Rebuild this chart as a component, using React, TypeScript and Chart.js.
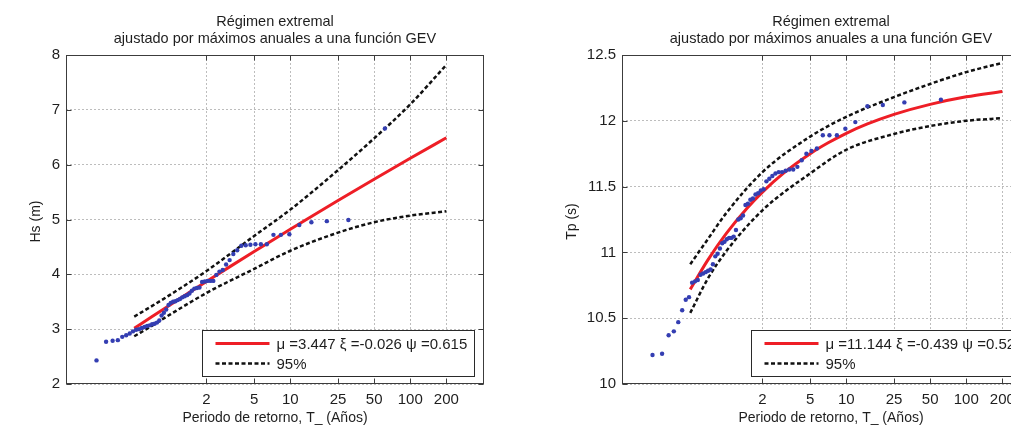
import React, { useEffect, useRef } from "react";
import { Chart, registerables } from "chart.js";

Chart.register(...registerables);

// ---------- data ----------
// plotting positions (return period, years) of the 61 ranked annual maxima
const plotPeriods = [
  0.2423, 0.2912, 0.3302, 0.3649, 0.3972, 0.4282, 0.4585, 0.4884, 0.5182, 0.5481,
  0.5783, 0.6089, 0.6401, 0.672, 0.7047, 0.7383, 0.7729, 0.8085, 0.8455, 0.8838,
  0.9237, 0.9651, 1.0085, 1.0536, 1.101, 1.1507, 1.2029, 1.258, 1.3161, 1.3776,
  1.4427, 1.5119, 1.5858, 1.6645, 1.7489, 1.8396, 1.9372, 2.0429, 2.1571, 2.2815,
  2.4178, 2.5674, 2.733, 2.9155, 3.1201, 3.3501, 3.6101, 3.9078, 4.2499, 4.649,
  5.1203, 5.685, 6.3735, 7.2358, 8.3472, 9.8232, 11.891, 14.996, 20.162, 30.49, 61.5,
];

const hsObserved = [
  2.43, 2.77, 2.79, 2.8, 2.86, 2.89, 2.92, 2.96, 2.99, 3.0,
  3.02, 3.04, 3.06, 3.07, 3.09, 3.1, 3.12, 3.16, 3.25, 3.3,
  3.36, 3.44, 3.48, 3.5, 3.51, 3.53, 3.55, 3.58, 3.6, 3.62,
  3.65, 3.7, 3.74, 3.75, 3.76, 3.86, 3.87, 3.88, 3.88, 3.88,
  3.99, 4.05, 4.08, 4.18, 4.26, 4.37, 4.44, 4.52, 4.53, 4.54,
  4.55, 4.55, 4.55, 4.72, 4.72, 4.73, 4.9, 4.95, 4.97, 4.99, 6.66,
];

const tpObserved = [
  10.22, 10.23, 10.37, 10.4, 10.47, 10.56, 10.64, 10.66, 10.77, 10.78,
  10.79, 10.83, 10.84, 10.85, 10.86, 10.87, 10.91, 10.97, 10.99, 11.03,
  11.07, 11.08, 11.1, 11.11, 11.11, 11.12, 11.17, 11.25, 11.26, 11.28,
  11.36, 11.37, 11.4, 11.41, 11.44, 11.45, 11.47, 11.48, 11.54, 11.56,
  11.58, 11.6, 11.61, 11.61, 11.62, 11.63, 11.63, 11.65, 11.7, 11.75,
  11.77, 11.79, 11.89, 11.89, 11.89, 11.94, 11.99, 12.11, 12.12, 12.14, 12.16,
];

const fitPeriods = [0.5, 0.7, 1, 1.5, 2, 3, 5, 7, 10, 15, 25, 50, 100, 200];
const hsFit = [3.017, 3.227, 3.447, 3.695, 3.87, 4.113, 4.416, 4.614, 4.822, 5.055, 5.346, 5.735, 6.116, 6.491];
const tpFit = [10.719, 10.941, 11.144, 11.339, 11.458, 11.602, 11.75, 11.831, 11.905, 11.976, 12.049, 12.125, 12.182, 12.223];

const bandPeriods = [0.5, 0.7, 1, 2, 5, 10, 25, 50, 100, 200];
const hsUpper = [3.23, 3.42, 3.63, 4.06, 4.7, 5.18, 5.9, 6.48, 7.1, 7.82];
const hsLower = [2.87, 3.06, 3.27, 3.66, 4.1, 4.43, 4.76, 4.95, 5.07, 5.15];
const tpUpper = [10.91, 11.1, 11.3, 11.61, 11.88, 12.03, 12.18, 12.28, 12.37, 12.44];
const tpLower = [10.54, 10.8, 11.01, 11.32, 11.6, 11.78, 11.9, 11.96, 12.0, 12.02];

const xTickValues = [2, 5, 10, 25, 50, 100, 200];
const hsTickValues = [2, 3, 4, 5, 6, 7, 8];
const tpTickValues = [10, 10.5, 11, 11.5, 12, 12.5];

const titleLines = ["Régimen extremal", "ajustado por máximos anuales a una función GEV"];
const xTitle = "Periodo de retorno, T_ (Años)";
const hsTitle = "Hs (m)";
const tpTitle = "Tp (s)";
const hsLegend = "μ =3.447 ξ =-0.026 ψ =0.615";
const tpLegend = "μ =11.144 ξ =-0.439 ψ =0.525";
const bandLegend = "95%";

// ---------- styling ----------
const FONT = "'Liberation Sans', Arial, Helvetica, sans-serif";
const DOT = "rgb(52, 62, 178)";
const RED = "rgb(238, 30, 38)";
const TEXT = "#1e1e1e";

const pts = (xs: number[], ys: number[]) => xs.map((x, i) => ({ x, y: ys[i] }));

type Cfg = {
  observed: number[];
  fit: number[];
  upper: number[];
  lower: number[];
  yMin: number;
  yMax: number;
  yTicks: number[];
  yTitle: string;
  yTitleOffset: number;
  legend: string;
  leftWidth: number;
};

const decorPlugin = (cfg: Cfg) => ({
  id: "decor",
  afterDraw(chart: any) {
    const { ctx, chartArea: a, scales } = chart;
    const L = Math.round(a.left) + 0.5;
    const R = Math.round(a.right) - 0.5;
    const T = Math.round(a.top) + 0.5;
    const B = Math.round(a.bottom) - 0.5;
    ctx.save();
    // frame
    ctx.setLineDash([]);
    ctx.strokeStyle = "#3c3c3c";
    ctx.lineWidth = 1;
    ctx.strokeRect(L, T, R - L, B - T);
    // inner tick marks
    ctx.beginPath();
    for (const v of xTickValues) {
      const px = Math.round(scales.x.getPixelForValue(v)) + 0.5;
      ctx.moveTo(px, B);
      ctx.lineTo(px, B - 5);
      ctx.moveTo(px, T);
      ctx.lineTo(px, T + 5);
    }
    for (const v of cfg.yTicks) {
      const py = Math.round(scales.y.getPixelForValue(v)) + 0.5;
      ctx.moveTo(L, py);
      ctx.lineTo(L + 5, py);
      ctx.moveTo(R, py);
      ctx.lineTo(R - 5, py);
    }
    ctx.stroke();

    // titles
    const cx = (a.left + a.right) / 2;
    ctx.fillStyle = TEXT;
    ctx.textAlign = "center";
    ctx.textBaseline = "middle";
    ctx.font = `14.5px ${FONT}`;
    ctx.fillText(titleLines[0], cx, 22);
    ctx.fillText(titleLines[1], cx, 39);
    ctx.font = `14px ${FONT}`;
    ctx.fillText(xTitle, cx, 418);
    ctx.save();
    ctx.translate(a.left - cfg.yTitleOffset, (a.top + a.bottom) / 2 + 2);
    ctx.rotate(-Math.PI / 2);
    ctx.fillText(cfg.yTitle, 0, 0);
    ctx.restore();

    // legend
    const ds = chart.data.datasets;
    const fitLabel = ds[1].label;
    const bandLabel = ds[2].label;
    ctx.font = `15px ${FONT}`;
    const tw = Math.max(ctx.measureText(fitLabel).width, ctx.measureText(bandLabel).width);
    const boxW = Math.round(13 + 54 + 7 + tw + 7);
    const boxH = 46;
    const right = Math.round(a.right) - 10;
    const bottom = Math.round(a.bottom) - 8;
    const bx = right - boxW + 0.5;
    const by = bottom - boxH + 0.5;
    ctx.fillStyle = "#ffffff";
    ctx.fillRect(bx, by, boxW, boxH);
    ctx.strokeStyle = "#2a2a2a";
    ctx.lineWidth = 1;
    ctx.strokeRect(bx, by, boxW, boxH);
    const r1 = by + 13;
    const r2 = by + 33;
    ctx.strokeStyle = RED;
    ctx.lineWidth = 3;
    ctx.beginPath();
    ctx.moveTo(bx + 13, r1);
    ctx.lineTo(bx + 67, r1);
    ctx.stroke();
    ctx.strokeStyle = "#111";
    ctx.lineWidth = 2.5;
    ctx.setLineDash([4, 2.5]);
    ctx.beginPath();
    ctx.moveTo(bx + 13, r2);
    ctx.lineTo(bx + 67, r2);
    ctx.stroke();
    ctx.setLineDash([]);
    ctx.fillStyle = TEXT;
    ctx.textAlign = "left";
    ctx.textBaseline = "middle";
    ctx.fillText(fitLabel, bx + 74, r1 + 1);
    ctx.fillText(bandLabel, bx + 74, r2 + 1);
    ctx.restore();
  },
});

function buildChart(canvas: HTMLCanvasElement, cfg: Cfg) {
  return new Chart(canvas, {
    type: "scatter",
    data: {
      datasets: [
        {
          label: "observed",
          data: pts(plotPeriods, cfg.observed),
          backgroundColor: DOT,
          borderWidth: 0,
          pointRadius: 2.2,
          showLine: false,
        },
        {
          label: cfg.legend,
          data: pts(fitPeriods, cfg.fit),
          borderColor: RED,
          borderWidth: 3,
          pointRadius: 0,
          showLine: true,
          cubicInterpolationMode: "monotone",
        },
        {
          label: bandLegend,
          data: pts(bandPeriods, cfg.upper),
          borderColor: "#111",
          borderWidth: 2.5,
          borderDash: [4, 2.5],
          pointRadius: 0,
          showLine: true,
          cubicInterpolationMode: "monotone",
        },
        {
          label: bandLegend + " ",
          data: pts(bandPeriods, cfg.lower),
          borderColor: "#111",
          borderWidth: 2.5,
          borderDash: [4, 2.5],
          pointRadius: 0,
          showLine: true,
          cubicInterpolationMode: "monotone",
        },
      ],
    } as any,
    options: {
      animation: false,
      responsive: false,
      events: [],
      layout: { padding: { left: 0, top: 55, right: 16, bottom: 0 } },
      plugins: {
        legend: { display: false },
        title: { display: false },
        tooltip: { enabled: false },
      },
      scales: {
        x: {
          type: "logarithmic",
          min: 0.1349,
          max: 412,
          afterBuildTicks: (s: any) => {
            s.ticks = xTickValues.map((v) => ({ value: v }));
          },
          afterFit: (s: any) => {
            s.height = 42;
          },
          grid: { color: "#bdbdbd", lineWidth: 1, drawTicks: false },
          border: { display: false, dash: [2, 2] },
          ticks: {
            autoSkip: false,
            maxRotation: 0,
            padding: 7,
            color: TEXT,
            font: { family: FONT, size: 15 },
            callback: (v: any) => String(v),
          },
        },
        y: {
          type: "linear",
          min: cfg.yMin,
          max: cfg.yMax,
          afterBuildTicks: (s: any) => {
            s.ticks = cfg.yTicks.map((v) => ({ value: v }));
          },
          afterFit: (s: any) => {
            s.width = cfg.leftWidth;
          },
          grid: { color: "#bdbdbd", lineWidth: 1, drawTicks: false },
          border: { display: false, dash: [2, 2] },
          ticks: {
            padding: 6,
            color: TEXT,
            font: { family: FONT, size: 15 },
            callback: (v: any) => String(v),
          },
        },
      },
    } as any,
    plugins: [decorPlugin(cfg)],
  });
}

export default function App() {
  const leftRef = useRef<HTMLCanvasElement>(null);
  const rightRef = useRef<HTMLCanvasElement>(null);

  useEffect(() => {
    const c1 = buildChart(leftRef.current!, {
      observed: hsObserved,
      fit: hsFit,
      upper: hsUpper,
      lower: hsLower,
      yMin: 2,
      yMax: 8,
      yTicks: hsTickValues,
      yTitle: hsTitle,
      yTitleOffset: 30,
      legend: hsLegend,
      leftWidth: 66,
    });
    const c2 = buildChart(rightRef.current!, {
      observed: tpObserved,
      fit: tpFit,
      upper: tpUpper,
      lower: tpLower,
      yMin: 10,
      yMax: 12.5,
      yTicks: tpTickValues,
      yTitle: tpTitle,
      yTitleOffset: 50,
      legend: tpLegend,
      leftWidth: 122,
    });
    return () => {
      c1.destroy();
      c2.destroy();
    };
  }, []);

  return (
    <div
      style={{
        position: "absolute",
        left: 0,
        top: 0,
        width: 1011,
        height: 426,
        overflow: "hidden",
        background: "#ffffff",
      }}
    >
      <canvas ref={leftRef} width={500} height={426} style={{ position: "absolute", left: 0, top: 0 }} />
      <canvas ref={rightRef} width={556} height={426} style={{ position: "absolute", left: 500, top: 0 }} />
    </div>
  );
}
